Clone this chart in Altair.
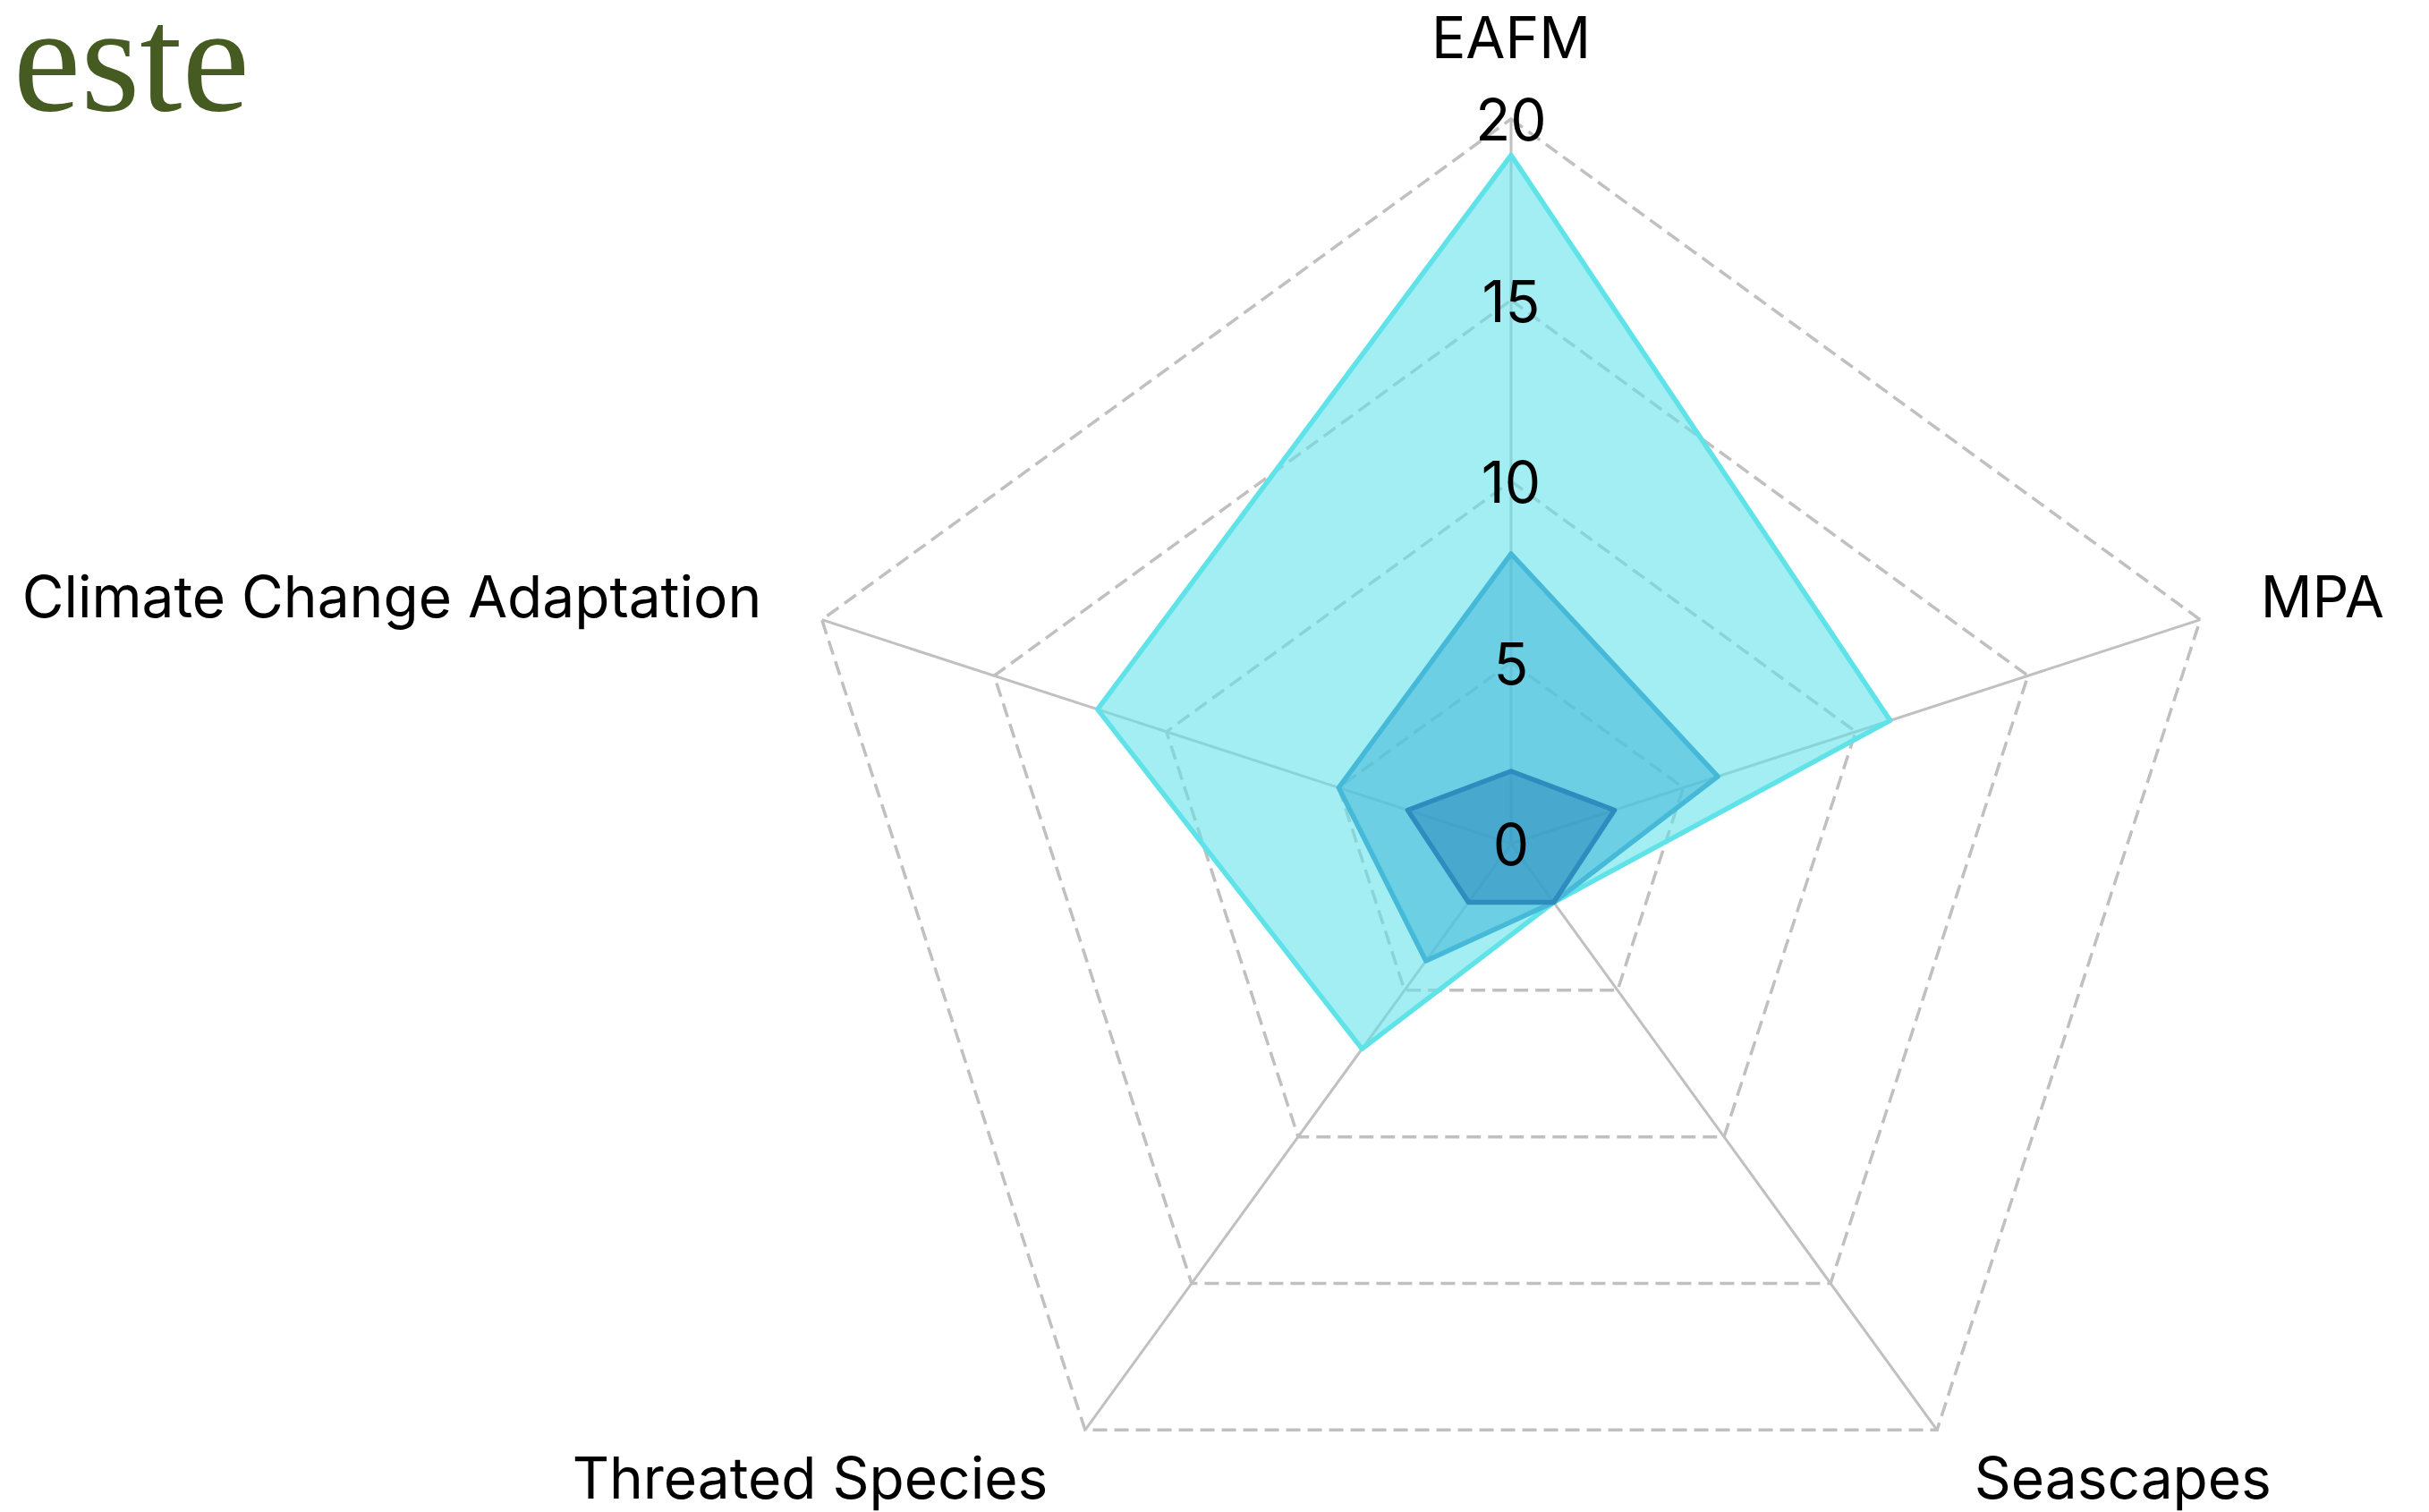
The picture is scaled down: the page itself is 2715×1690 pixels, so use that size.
import math
import altair as alt
import pandas as pd

# ---- data ----
categories = ["EAFM", "MPA", "Seascapes", "Threated Species", "Climate Change Adaptation"]
series_names = ["Series A", "Series B", "Series C"]
series_a = [19, 11, 2, 7, 12]
series_b = [8, 6, 2, 4, 5]
series_c = [2, 3, 2, 2, 3]
tick_values = [0, 5, 10, 15, 20]
max_value = 20
title_text = ["Timor-Leste"]

stroke_colors = ["#5fe2e8", "#46b9d8", "#2e8cbe"]

n = len(categories)
step = 2 * math.pi / n

# ---- tables ----
poly_rows = []
for s, vals in zip(series_names, [series_a, series_b, series_c]):
    for i, (c, v) in enumerate(zip(categories, vals)):
        poly_rows.append({"series": s, "category": c, "idx": i, "value": v})
poly_df = pd.DataFrame(poly_rows)

grid_rows = []
for t in tick_values[1:]:
    for i, c in enumerate(categories):
        grid_rows.append({"tick": t, "idx": i, "value": t})
grid_df = pd.DataFrame(grid_rows)

spoke_df = pd.DataFrame({"category": categories, "idx": list(range(n)), "value": [max_value] * n})
tick_df = pd.DataFrame({"tick": tick_values})
label_df = pd.DataFrame({"category": categories, "idx": list(range(n)),
                         "value": [max_value * 1.0875] * n})
title_df = pd.DataFrame({"title": title_text})

unit = 40.5
W, H = 2690, 1682
cx, cy = 1681, 935
xdom = [-cx / unit, (W - cx) / unit]
ydom = [-(H - cy) / unit, cy / unit]

xs = alt.Scale(domain=xdom, nice=False, zero=False)
ys = alt.Scale(domain=ydom, nice=False, zero=False)

calc_x = f"datum.value * sin(datum.idx * {step})"
calc_y = f"datum.value * cos(datum.idx * {step})"

gray = "#c0c0c0"

grid = alt.Chart(grid_df).transform_calculate(px=calc_x, py=calc_y).mark_line(
    interpolate="linear-closed", stroke=gray, strokeWidth=3.5, strokeDash=[16, 8]
).encode(
    x=alt.X("px:Q", scale=xs, axis=None),
    y=alt.Y("py:Q", scale=ys, axis=None),
    detail="tick:N",
    order="idx:Q",
)

spokes = alt.Chart(spoke_df).transform_calculate(
    px=calc_x, py=calc_y, zero="0"
).mark_rule(stroke=gray, strokeWidth=3).encode(
    x=alt.X("zero:Q", scale=xs, axis=None),
    y=alt.Y("zero:Q", scale=ys, axis=None),
    x2="px:Q",
    y2="py:Q",
)

layers = [grid, spokes]
for s, col in zip(series_names, stroke_colors):
    layers.append(
        alt.Chart(poly_df).transform_filter(alt.datum.series == s)
        .transform_calculate(px=calc_x, py=calc_y)
        .mark_line(interpolate="linear-closed", stroke=col, fill=col,
                   fillOpacity=0.58, strokeWidth=5.5, strokeJoin="round")
        .encode(
            x=alt.X("px:Q", scale=xs, axis=None),
            y=alt.Y("py:Q", scale=ys, axis=None),
            order="idx:Q",
        )
    )

ticks = alt.Chart(tick_df).transform_calculate(zero="0").mark_text(
    font="Inter", fontSize=64, color="#000000", align="center", baseline="middle", dy=5
).encode(
    x=alt.X("zero:Q", scale=xs, axis=None),
    y=alt.Y("tick:Q", scale=ys, axis=None),
    text="tick:Q",
)
layers.append(ticks)

lab_base = alt.Chart(label_df).transform_calculate(px=calc_x, py=calc_y)
lab_enc = dict(
    x=alt.X("px:Q", scale=xs, axis=None),
    y=alt.Y("py:Q", scale=ys, axis=None),
    text="category:N",
)
lab_center = lab_base.transform_filter("abs(datum.px) < 0.01").mark_text(
    font="Inter", fontSize=64, color="#000000", align="center", baseline="alphabetic", dy=3
).encode(**lab_enc)
lab_right = lab_base.transform_filter("datum.px >= 0.01").mark_text(
    font="Inter", fontSize=64, color="#000000", align="left", baseline="middle"
).encode(**lab_enc)
lab_left = lab_base.transform_filter("datum.px <= -0.01").mark_text(
    font="Inter", fontSize=64, color="#000000", align="right", baseline="middle"
).encode(**lab_enc)
layers += [lab_center, lab_right, lab_left]

title = alt.Chart(title_df).mark_text(
    font="Liberation Serif", fontSize=170, color="#465b22",
    align="right", baseline="alphabetic"
).encode(
    x=alt.value(271),
    y=alt.value(115),
    text="title:N",
)
layers.append(title)

chart = alt.layer(*layers).properties(
    width=W,
    height=H,
    padding=0,
    autosize=alt.AutoSizeParams(type="none"),
    background="white",
).configure_view(stroke=None)

chart.save("out.html", embed_options={"renderer": "svg", "actions": False})
